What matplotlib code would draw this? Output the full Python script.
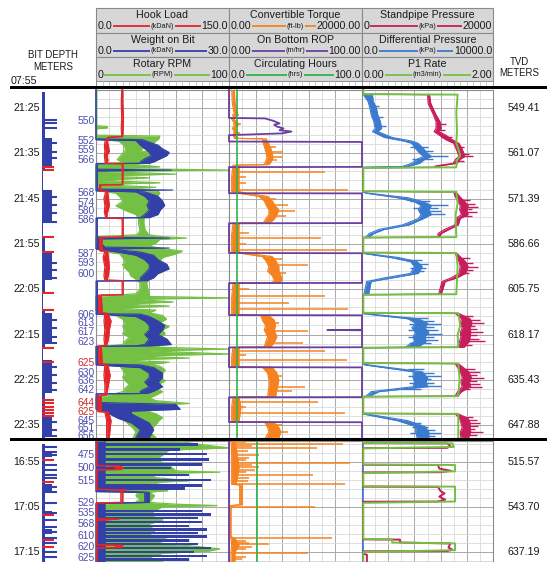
import matplotlib
matplotlib.use("Agg")
import matplotlib.pyplot as plt
import numpy as np
from matplotlib.patches import Rectangle

plt.rcParams['font.family'] = ['Liberation Sans', 'DejaVu Sans']

# ------------------------------------------------------------------ data
P1_BASE = 21 * 60            # panel 1 times are minutes after 21:00
P2_BASE = 16 * 60            # panel 2 times are minutes after 16:00
P1_RANGE = (20.92, 97.74)
P2_RANGE = (50.33, 77.22)

HEADER = [
    [("Hook Load", "0.0", "(kDaN)", "150.0"), ("Convertible Torque", "0.00", "(ft-lb)", "20000.00"),
     ("Standpipe Pressure", "0", "(kPa)", "20000")],
    [("Weight on Bit", "0.0", "(kDaN)", "30.0"), ("On Bottom ROP", "0.00", "(m/hr)", "100.00"),
     ("Differential Pressure", "0.0", "(kPa)", "10000.0")],
    [("Rotary RPM", "0", "(RPM)", "100"), ("Circulating Hours", "0.0", "(hrs)", "100.0"),
     ("P1 Rate", "0.00", "(m3/min)", "2.00")],
]

TIME_LABELS_P1 = ["21:25", "21:35", "21:45", "21:55", "22:05", "22:15", "22:25", "22:35"]
TIME_LABELS_P2 = ["16:55", "17:05", "17:15"]
TVD_P1 = ["549.41", "561.07", "571.39", "586.66", "605.75", "618.17", "635.43", "647.88"]
TVD_P2 = ["515.57", "543.70", "637.19"]

# (minute, bit depth label, red?)
DEPTH_P1 = [(27.9, "550", 0), (32.3, "552", 0), (34.3, "559", 0), (36.5, "566", 0),
            (43.8, "568", 0), (46.0, "574", 0), (47.7, "580", 0), (49.7, "586", 0),
            (57.2, "587", 0), (59.2, "593", 0), (61.6, "600", 0),
            (70.7, "606", 0), (72.5, "613", 0), (74.4, "617", 0), (76.7, "623", 0),
            (81.3, "625", 1), (83.5, "630", 0), (85.3, "636", 0), (87.3, "642", 0),
            (90.1, "644", 1), (92.1, "625", 1), (94.1, "645", 0), (95.6, "651", 0), (97.4, "656", 0)]
DEPTH_P2 = [(53.4, "475", 0), (56.3, "500", 0), (59.2, "515", 0), (64.1, "529", 0),
            (66.3, "535", 0), (68.8, "568", 0), (71.4, "610", 0), (73.9, "620", 0), (76.3, "625", 0)]

# bit-depth strip: drilling blocks, thin (no-progress) spans, tick marks
BD_WIDE_P1 = [(31.6, 38.0), (43.1, 50.4), (57.0, 63.0), (70.3, 76.9), (80.6, 87.9), (93.2, 97.6)]
BD_THIN_P1 = [(38.7, 43.1), (50.4, 53.5), (65.8, 69.6), (78.0, 80.6)]
BD_TICKS_P1 = [27.6, 28.3, 29.4, 32.7, 34.7, 36.0, 44.6, 46.4, 48.2, 50.2, 59.2, 60.8, 62.5,
               71.8, 73.6, 75.6, 76.9, 82.2, 83.9, 85.7, 87.3, 94.3, 96.1, 97.4]
BD_RED_P1 = [38.0, 38.7, 53.5, 56.8, 65.8, 69.6, 78.0, 81.1, 89.5, 90.1, 91.0, 91.7, 92.3, 93.0]
BD_WIDE_P2 = [(53.0, 54.0), (60.0, 61.5), (66.0, 67.0), (70.0, 71.0)]
BD_THIN_P2 = []
BD_TICKS_P2 = [51.7, 52.8, 53.4, 55.7, 56.8, 57.9, 58.6, 60.6, 61.7, 64.1, 66.3, 67.9, 69.4,
               70.6, 71.9, 73.0, 75.0, 76.1]
BD_RED_P2 = [54.6, 59.4, 66.8, 72.3, 73.9]

# ---- panel 1 curves: (minute, low, high) bands; spikes are (minute, from, to)
HOOK_P1 = [(21.0, 29, 30), (24.0, 28.5, 30), (27.0, 29, 31), (29.5, 28.5, 30.5), (31.3, 29, 30),
           (31.5, 13, 14), (32.5, 10, 13), (33.5, 9.5, 14), (34.5, 10, 15), (35.5, 9.5, 12.5),
           (36.5, 10, 13.5), (37.2, 10.5, 12),
           (37.3, 29.5, 30.5), (40.0, 29.5, 30.5), (41.9, 29.5, 30),
           (42.0, 4, 5), (43.3, 4, 5.5),
           (43.4, 11, 13), (45.0, 9, 14), (46.5, 10, 15), (48.0, 9.5, 13), (49.3, 11, 12),
           (49.4, 29.5, 30.5), (53.5, 29.5, 30.5),
           (53.6, 4, 7), (56.5, 4, 7),
           (56.6, 10, 13), (58.0, 8, 14), (60.0, 10, 15), (62.0, 9, 14), (63.0, 10, 12),
           (63.1, 29.5, 30.5), (66.2, 29.5, 30.5),
           (66.3, 3, 6), (70.2, 3, 7),
           (70.3, 10, 13), (72.0, 9, 17), (74.0, 10, 15), (76.0, 9, 14), (77.4, 10, 12),
           (77.5, 3, 6), (81.5, 3, 7),
           (81.6, 10, 13), (84.0, 9, 16), (86.0, 10, 14), (88.3, 10, 12),
           (88.4, 2, 6), (92.0, 2, 6),
           (92.1, 10, 14), (94.0, 12, 17), (95.5, 12, 16), (97.7, 12, 15)]

WOB_P1 = [(21.0, 0, 0), (31.8, 0, 0), (32.0, 0, 10.5), (32.2, 9, 11), (33.2, 10, 14), (34.0, 11, 15),
          (34.8, 12, 16.5), (35.5, 12.5, 16), (36.2, 11, 14.5), (36.9, 10, 13), (37.2, 10, 12),
          (37.3, 0, 0.3), (38.5, 0, 0.3), (38.7, 0, 17), (38.9, 0, 0.3), (42.9, 0, 0.3),
          (43.1, 0, 17.3), (43.3, 0, 3),
          (43.5, 9, 11), (44.5, 11, 14), (45.5, 12, 15), (46.5, 11.5, 15.5), (47.5, 12, 14.5),
          (48.5, 11, 14), (49.2, 10, 12), (49.3, 0, 0.3),
          (53.5, 0, 0.3), (53.7, 0, 16.6), (53.9, 0, 0.3), (55.7, 0, 2), (55.9, 0, 16.5), (56.1, 0, 3),
          (56.8, 5, 10), (57.5, 9, 13), (58.5, 11, 14), (59.5, 12, 16), (60.5, 12, 16.5),
          (61.5, 11, 14), (62.5, 10, 13), (63.1, 10, 11.5), (63.2, 0, 0.3),
          (70.4, 0, 0.3), (70.5, 0, 10), (71.0, 9, 12), (72.0, 11, 14), (73.0, 12, 15.5),
          (74.0, 12, 15), (75.0, 11, 14), (76.0, 12, 16), (77.2, 11, 17), (77.5, 9, 12), (77.6, 0, 0.3),
          (81.5, 0, 0.3), (81.7, 0, 10), (82.3, 10, 13), (83.5, 12, 15), (84.5, 12, 15),
          (85.5, 11, 14), (86.5, 12, 15), (87.5, 10, 13), (88.0, 10, 11.5), (88.1, 0, 0.3),
          (90.0, 0, 1), (90.4, 0, 18), (91.5, 0, 19), (91.9, 2, 8), (92.5, 3, 8), (93.5, 5, 10),
          (94.5, 8, 12), (96.0, 10, 13), (97.7, 9, 12)]

RPM_P1 = [(21.0, 0, 0.5), (28.9, 0, 0.5), (29.1, 0, 8.5), (29.4, 0, 8.5), (29.6, 0, 0.5), (31.0, 0, 0.5),
          (31.2, 0, 48), (31.9, 0, 47),
          (32.3, 17, 45), (33.0, 20, 42), (33.7, 22, 36), (34.4, 22, 33), (35.0, 20, 45),
          (35.7, 18, 42), (36.4, 16, 40), (37.0, 20, 35),
          (37.5, 0, 30), (38.0, 0, 48), (38.3, 0, 2), (38.7, 0, 100), (39.0, 0, 5), (39.6, 0, 60),
          (40.0, 0, 3), (40.4, 0, 40), (41.0, 0, 3), (41.5, 0, 48), (41.9, 0, 3), (42.5, 0, 45),
          (43.0, 0, 10), (43.4, 5, 47),
          (43.8, 15, 48), (44.6, 18, 46), (45.6, 20, 44), (46.6, 15, 47), (47.6, 22, 40),
          (48.5, 30, 37), (49.3, 32, 36), (50.5, 32, 36), (52.0, 33, 37), (53.0, 31, 40),
          (53.4, 0, 50), (53.7, 0, 68), (54.0, 0, 48), (54.8, 0, 45), (55.5, 0, 40), (56.0, 0, 50),
          (56.6, 5, 65),
          (57.2, 18, 60), (58.0, 20, 50), (58.8, 22, 48), (59.6, 20, 53), (60.4, 22, 45),
          (61.2, 25, 50), (62.0, 26, 42), (62.8, 30, 40), (63.6, 33, 38), (65.0, 33, 39), (66.0, 30, 40),
          (66.6, 0, 40), (66.9, 0, 100), (67.2, 0, 30), (67.8, 0, 58), (68.3, 0, 20), (68.7, 0, 55),
          (69.2, 0, 15), (69.6, 0, 45), (70.2, 5, 40),
          (70.8, 15, 50), (71.6, 20, 53), (72.4, 22, 48), (73.2, 20, 55), (74.0, 22, 50),
          (74.8, 20, 52), (75.6, 25, 48), (76.4, 22, 45), (77.2, 20, 50),
          (77.8, 0, 45), (78.2, 0, 100), (78.6, 0, 40), (79.3, 0, 100), (79.7, 0, 30), (80.2, 0, 70),
          (80.6, 0, 20), (81.1, 0, 55), (81.6, 5, 40),
          (82.0, 18, 48), (82.8, 20, 52), (83.6, 22, 50), (84.4, 20, 48), (85.2, 22, 52),
          (86.0, 25, 47), (86.8, 22, 45), (87.6, 20, 50), (88.4, 10, 45),
          (89.0, 0, 40), (89.6, 0, 45), (90.2, 0, 70), (90.6, 0, 40), (91.2, 0, 42), (91.8, 5, 38),
          (92.5, 18, 45), (93.3, 20, 50), (94.1, 22, 47), (94.9, 25, 45), (95.7, 28, 42),
          (96.5, 30, 40), (97.7, 28, 45)]

TORQUE_P1 = [(21.0, 400, 800), (24.0, 500, 900), (26.5, 800, 1300), (27.5, 400, 700), (28.5, 900, 1500),
             (29.5, 500, 900), (30.5, 900, 1400), (31.0, 600, 1000), (31.7, 800, 1200),
             (31.8, 5000, 5600), (33.0, 5200, 6000), (34.0, 5400, 6300), (35.0, 5600, 6500),
             (36.0, 5700, 6600), (37.2, 5400, 6200), (37.5, 5200, 5800),
             (37.6, 600, 1500), (40.0, 400, 1500), (43.4, 400, 1500),
             (43.8, 1500, 2500), (44.5, 4500, 5800), (45.5, 5300, 6500), (46.5, 5600, 6900),
             (47.5, 6000, 7500), (48.5, 6000, 7200), (49.5, 5500, 6800), (50.3, 5200, 6200),
             (50.4, 600, 1500), (53.0, 400, 1500), (56.8, 400, 1500),
             (57.0, 1500, 2500), (57.8, 5000, 6500), (58.6, 5500, 7000), (60.0, 6000, 7500),
             (61.0, 5800, 7500), (62.0, 6500, 7800), (63.0, 6800, 8000), (63.5, 6500, 7500),
             (63.6, 600, 1500), (67.0, 400, 1500), (70.6, 400, 1500),
             (70.8, 4800, 6000), (71.8, 5000, 6800), (73.0, 5500, 7000), (74.0, 5300, 6800),
             (75.5, 5800, 7200), (76.7, 5500, 6800), (77.7, 5300, 6300),
             (77.8, 600, 1500), (80.0, 400, 1500), (82.1, 400, 1500),
             (82.2, 5000, 6500), (83.5, 5800, 7200), (85.0, 6000, 7500), (86.4, 6000, 7300),
             (88.7, 5800, 7000),
             (88.8, 600, 1500), (91.0, 400, 1800), (94.3, 400, 1500),
             (94.4, 5400, 6800), (95.5, 5800, 7500), (96.5, 6000, 7800), (97.7, 5500, 7500)]
TORQUE_SPIKES_P1 = [(26.5, 500, 1500), (28.5, 600, 1800), (30.5, 600, 1700),
                    (33.5, 5500, 7000), (34.8, 5800, 8100), (35.8, 5800, 8000), (36.5, 5800, 7200),
                    (45.0, 5500, 7000), (46.5, 6000, 8900), (47.8, 6500, 9900), (48.8, 6500, 8500),
                    (58.3, 6000, 8000), (59.7, 6500, 11900), (61.5, 6500, 8500),
                    (72.5, 5500, 7500), (74.2, 6000, 11900), (76.9, 6000, 11100),
                    (84.2, 6500, 8000), (86.6, 6500, 11400), (87.5, 6500, 9500),
                    (95.0, 6000, 8000), (96.5, 6500, 8900),
                    (39.2, 500, 14400), (40.2, 500, 2500), (41.6, 500, 2500), (43.1, 500, 17850),
                    (52.5, 500, 3000), (53.8, 500, 13900), (55.0, 500, 2500), (56.3, 500, 17700),
                    (65.0, 500, 3000), (66.5, 500, 14400), (68.0, 500, 9000), (69.4, 500, 17900),
                    (78.6, 500, 14400), (79.5, 500, 2500), (80.6, 500, 17700),
                    (89.9, 500, 13400), (91.0, 500, 2500), (92.3, 500, 17400)]

ROP_P1 = [(21.0, 0), (27.2, 0), (27.3, 27), (27.8, 33), (28.4, 38), (28.7, 34), (29.1, 36), (29.5, 41),
          (29.9, 38), (30.2, 47), (30.6, 40), (31.0, 0), (32.4, 0), (32.5, 100), (38.0, 100),
          (38.05, 0), (43.8, 0), (43.85, 100), (50.4, 100), (50.45, 0), (57.0, 0), (57.05, 100),
          (63.6, 100), (63.65, 0), (70.7, 0), (70.75, 100), (73.95, 100), (74.0, 74), (74.05, 100),
          (77.8, 100), (77.85, 0), (82.2, 0), (82.25, 100), (88.8, 100), (88.85, 0), (94.3, 0),
          (94.35, 100), (97.7, 100)]

CIRC_P1 = [(21.0, 6.0), (97.7, 6.0)]

SPP_P1 = [(21.0, 150, 150), (21.95, 150, 150), (22.05, 10000, 10300), (24.0, 10100, 10500),
          (26.5, 10900, 11300), (28.0, 11300, 11900), (29.5, 11300, 12100), (30.2, 11000, 11700),
          (31.0, 11800, 12800), (32.0, 12800, 13800), (32.8, 14000, 14800), (33.8, 14300, 15200),
          (34.8, 14600, 15500), (35.7, 14800, 15700), (36.3, 14300, 15000), (37.2, 13900, 14500),
          (37.8, 11200, 11800), (38.1, 11000, 11500), (38.2, 150, 150),
          (43.4, 150, 150), (43.5, 14000, 14300), (44.5, 14200, 14900), (45.7, 14700, 15700),
          (46.5, 15000, 16200), (47.5, 14900, 16000), (48.5, 15200, 16200), (49.4, 14300, 15000),
          (50.8, 14200, 14700), (51.8, 12600, 13300), (52.7, 11600, 12100), (53.5, 11600, 11800),
          (53.6, 150, 150),
          (56.9, 150, 150), (57.0, 14200, 14400), (58.9, 14800, 15800), (60.0, 15000, 16200),
          (61.5, 14800, 15800), (62.5, 13600, 14500), (63.3, 12200, 12700), (66.1, 11700, 12100),
          (66.2, 150, 150),
          (70.2, 150, 150), (70.3, 14200, 14700), (71.5, 15200, 16500), (72.5, 15000, 16800),
          (73.5, 15300, 16500), (74.5, 15000, 16600), (75.5, 15100, 16500), (76.5, 14900, 16400),
          (77.8, 14600, 15600), (77.9, 150, 150),
          (81.3, 150, 150), (81.4, 14200, 14700), (83.2, 15000, 16300), (84.5, 15300, 16700),
          (85.5, 15100, 16400), (86.5, 15300, 16600), (87.6, 14600, 15200), (88.6, 14200, 14600),
          (88.7, 150, 150),
          (92.4, 150, 150), (92.5, 14200, 14700), (93.5, 14900, 16200), (94.5, 15100, 16500),
          (95.5, 15300, 16500), (96.5, 15000, 16600), (97.7, 15100, 16300)]
SPP_SPIKES_P1 = [(28.6, 11500, 12800), (29.8, 11500, 12600), (31.4, 12000, 13800), (33.5, 14500, 15600),
                 (35.2, 15000, 16300), (35.7, 15200, 17000), (36.6, 14500, 15600),
                 (45.2, 15000, 16500), (46.1, 15300, 17200), (46.8, 15500, 17700), (47.4, 15300, 16800),
                 (48.0, 15500, 17500), (48.8, 15300, 16800),
                 (58.0, 14800, 16500), (59.3, 15200, 17000), (60.0, 15300, 17700), (60.7, 15200, 16900),
                 (61.4, 15000, 16400),
                 (71.0, 15000, 17000), (71.7, 15500, 18000), (72.4, 15500, 18700), (73.1, 15500, 17200),
                 (73.8, 15500, 17500), (74.5, 15300, 18500), (75.2, 15500, 17500), (75.9, 15500, 17800),
                 (76.5, 15300, 18800), (77.2, 15000, 16800),
                 (82.5, 15000, 17200), (83.2, 15300, 18000), (83.9, 15500, 17600), (84.5, 15500, 18700),
                 (85.2, 15500, 17500), (85.9, 15500, 18000), (86.5, 15500, 18300), (87.1, 15000, 16500),
                 (93.2, 15000, 17000), (93.9, 15400, 17500), (94.5, 15500, 18000), (95.2, 15500, 17700),
                 (95.9, 15400, 17300), (96.5, 15300, 18500), (97.2, 15300, 17500)]

DP_P1 = [(21.0, 60, 60), (21.95, 60, 60), (22.05, 100, 800), (23.5, 450, 850), (25.0, 600, 1100),
         (26.5, 700, 1200), (28.0, 900, 1400), (29.5, 1000, 1500), (30.2, 800, 1200),
         (31.5, 1700, 2300), (32.3, 3200, 3800), (32.8, 3800, 4300), (34.0, 4100, 4700),
         (35.0, 4400, 5000), (35.7, 4700, 5300), (36.3, 4200, 4800), (37.2, 3800, 4400),
         (37.9, 3100, 3500), (38.1, 60, 60),
         (43.5, 60, 60), (43.8, 300, 500), (44.8, 2700, 3500), (45.7, 4000, 4700), (46.5, 4500, 5300),
         (47.5, 4300, 5100), (48.5, 4500, 5300), (49.4, 4300, 4700), (50.8, 3100, 3600),
         (51.8, 1300, 1700), (52.7, 550, 900), (53.5, 300, 550), (53.6, 60, 60),
         (57.0, 60, 60), (57.1, 100, 300), (58.0, 2200, 2800), (58.9, 3700, 4200), (60.0, 4000, 4600),
         (61.5, 3700, 4300), (62.5, 1700, 2300), (63.3, 350, 700), (66.1, 150, 500), (66.2, 60, 60),
         (70.3, 60, 60), (70.4, 100, 300), (71.5, 3500, 4300), (72.5, 4100, 5000), (73.5, 3800, 4800),
         (74.5, 4100, 5100), (75.5, 3900, 4800), (76.5, 4000, 4900), (77.8, 3300, 4300), (77.9, 60, 60),
         (81.4, 60, 60), (81.7, 200, 500), (83.2, 3900, 4600), (84.5, 3900, 5000), (85.5, 4000, 4900),
         (86.5, 3900, 5000), (87.6, 700, 1300), (88.6, 300, 550), (88.7, 60, 60),
         (92.5, 60, 60), (92.6, 200, 500), (94.0, 2700, 3500), (95.3, 4100, 4800), (96.5, 4100, 5100),
         (97.7, 4200, 5100)]
DP_SPIKES_P1 = [(24.5, 600, 1300), (27.0, 800, 1600), (29.0, 1000, 1800),
                (33.5, 3700, 5000), (34.6, 4500, 5400), (35.7, 4800, 6600), (36.3, 3800, 5400),
                (45.5, 3700, 5200), (46.3, 4700, 6600), (47.0, 3900, 5800), (47.8, 4600, 6000),
                (48.5, 4700, 6300),
                (58.6, 3400, 4600), (59.5, 4200, 5000), (60.3, 3700, 4900), (61.0, 4000, 4700),
                (71.3, 3300, 5000), (72.0, 4200, 5500), (72.7, 3600, 6000), (73.4, 4000, 5500),
                (74.1, 3500, 5800), (74.8, 4400, 6100), (75.5, 3500, 5500), (76.2, 4300, 5800),
                (76.9, 3600, 5300),
                (82.7, 3500, 4700), (83.5, 4200, 5500), (84.2, 3500, 6000), (84.9, 4200, 5300),
                (85.6, 3600, 5500), (86.3, 4200, 6000), (87.0, 3000, 4500),
                (94.6, 3500, 4500), (95.3, 3800, 5000), (96.0, 4400, 5600), (96.7, 3700, 6000),
                (97.3, 4500, 5600)]

P1RATE_P1 = [(21.0, 0.02), (21.95, 0.02), (22.05, 1.46), (26.0, 1.44), (30.0, 1.45), (32.8, 1.44),
             (34.0, 1.47), (35.5, 1.50), (36.5, 1.45), (38.1, 1.44), (38.2, 0.02), (43.4, 0.02),
             (43.5, 1.44), (46.0, 1.46), (48.5, 1.43), (53.5, 1.44), (53.6, 0.02), (56.9, 0.02),
             (57.0, 1.44), (60.0, 1.46), (66.1, 1.44), (66.2, 0.02), (70.2, 0.02), (70.3, 1.47),
             (73.0, 1.50), (75.0, 1.46), (77.8, 1.47), (77.9, 0.02), (81.3, 0.02), (81.4, 1.47),
             (85.0, 1.49), (88.6, 1.47), (88.7, 0.02), (92.4, 0.02), (92.5, 1.47), (97.7, 1.47)]

# ---- panel 2 curves
HOOK_P2 = [(50.4, 0.5, 1), (55.8, 0.5, 1), (55.9, 20, 26), (56.3, 22, 31), (56.7, 24, 28), (56.8, 0.5, 1),
           (61.1, 0.5, 1), (61.2, 23, 34), (61.4, 28, 30), (64.0, 28, 30), (64.1, 0.5, 1),
           (67.6, 0.5, 1), (67.7, 18, 26), (68.0, 0.5, 1), (73.4, 0.5, 1), (73.5, 22, 30),
           (74.0, 22, 30), (74.1, 0.5, 1), (77.15, 0.5, 1)]
WOB_P2 = [(50.4, 0, 2), (61.4, 0, 2), (61.6, 0, 9), (61.8, 11, 12), (64.0, 11, 12), (64.2, 0, 2),
          (77.15, 0, 2)]
WOB_BARS_P2 = [(51.2, 23), (52.3, 19), (53.3, 25), (54.5, 25.5), (55.6, 24), (56.4, 17), (57.9, 21),
               (59.0, 26), (60.2, 24), (60.9, 20), (65.9, 24), (66.7, 26), (67.5, 23), (68.3, 24),
               (69.2, 21), (70.0, 25), (70.8, 23), (71.6, 25), (72.4, 21), (73.2, 23), (74.1, 26),
               (75.0, 22), (75.9, 25), (76.7, 21)]
RPM_P2 = [(50.4, 0, 60), (51.2, 0, 80), (51.9, 0, 100), (52.4, 0, 55), (53.5, 0, 50), (54.6, 0, 45),
          (55.7, 0, 55), (56.5, 5, 58), (57.0, 0, 60), (57.3, 0, 93), (57.6, 0, 40), (58.5, 0, 45),
          (59.2, 0, 70), (59.6, 0, 40), (60.3, 0, 55), (61.0, 0, 50), (61.4, 0, 54), (61.7, 32, 40),
          (62.5, 30, 44), (63.3, 33, 42), (64.0, 30, 40), (64.4, 0, 60), (64.7, 0, 91), (65.0, 0, 50),
          (65.7, 0, 45), (66.8, 0, 40), (67.9, 0, 50), (69.0, 0, 38), (70.1, 0, 45), (71.2, 0, 40),
          (72.3, 0, 55), (73.0, 0, 45), (73.6, 0, 70), (74.3, 0, 93), (74.8, 0, 85), (75.3, 0, 50),
          (76.2, 0, 40), (77.15, 0, 50)]
TORQUE_P2 = [(50.4, 300, 900), (53.0, 400, 1200), (56.2, 400, 1500), (59.0, 400, 1200), (60.0, 400, 1000),
             (60.1, 1600, 2000), (64.5, 1600, 2000), (64.7, 200, 600), (65.2, 100, 300), (71.6, 100, 300),
             (72.0, 300, 900), (73.5, 400, 1500), (75.0, 300, 900), (77.15, 300, 900)]
TORQUE_SPIKES_P2 = [(50.6, 400, 2500), (51.0, 500, 17100), (51.5, 400, 3500), (51.9, 500, 13200),
                    (52.6, 400, 2900), (53.5, 400, 4500), (54.2, 400, 3000), (54.7, 400, 2500),
                    (55.2, 500, 18200), (55.8, 400, 3500), (56.2, 400, 4500), (56.7, 400, 3900),
                    (57.3, 400, 2500), (57.9, 500, 12600), (58.5, 400, 3000), (59.3, 400, 2800),
                    (59.9, 500, 17400), (65.0, 300, 12900), (71.9, 300, 15500), (72.6, 400, 2500),
                    (73.0, 400, 3000), (73.3, 400, 6000), (73.8, 400, 3500), (74.4, 400, 2500),
                    (75.2, 500, 11900), (76.0, 400, 2500), (76.6, 400, 2000)]
ROP_P2 = [(50.4, 0), (77.15, 0)]
CIRC_P2 = [(50.4, 21.0), (77.15, 21.0)]
SPP_P2 = [(50.4, 150), (50.85, 150), (50.9, 13000), (51.5, 13500), (51.9, 13000), (51.95, 150),
          (55.65, 150), (55.7, 11600), (56.5, 11800), (57.0, 13600), (57.3, 12000), (57.35, 150),
          (60.5, 150), (60.55, 11600), (61.5, 12000), (62.0, 12600), (62.7, 11800), (63.4, 12700),
          (63.8, 11500), (63.85, 150), (72.2, 150), (72.25, 5800), (72.9, 5800), (73.1, 13500),
          (74.0, 13200), (74.5, 13800), (74.8, 13000), (74.85, 150), (75.4, 150), (75.6, 750),
          (77.15, 750)]
DP_P2 = [(50.4, 100), (77.15, 100)]
P1RATE_P2 = [(50.4, 0.02), (50.8, 0.02), (50.9, 1.38), (51.7, 1.40), (52.0, 0.02), (55.6, 0.02),
             (55.7, 1.42), (57.1, 1.42), (57.5, 0.02), (60.4, 0.02), (60.5, 1.42), (63.8, 1.42),
             (64.1, 0.02), (72.1, 0.02), (72.2, 0.46), (72.9, 0.46), (73.1, 1.42), (74.6, 1.42),
             (75.0, 0.02), (77.15, 0.02)]

# ------------------------------------------------------------------ style
RED = '#e3262b'; WOB_BLUE = '#3240a8'; RPM_GREEN = '#74c044'
ORANGE = '#f5821f'; PURPLE = '#6b3fa0'; CIRC_GREEN = '#2fb34a'
MAGENTA = '#c81d5c'; DP_BLUE = '#3a7bd0'; P1_GREEN = '#74c044'
LABEL_BLUE = '#4a4fb0'; LABEL_RED = '#d42a2a'
HEADER_COLORS = [[RED, ORANGE, MAGENTA], [WOB_BLUE, PURPLE, DP_BLUE], [RPM_GREEN, CIRC_GREEN, P1_GREEN]]

W, H = 547, 562
fig = plt.figure(figsize=(W / 100, H / 100), dpi=100)
fig.patch.set_facecolor('white')


def add_ax(x0, y0, x1, y1, z=1):
    return fig.add_axes([x0 / W, 1 - y1 / H, (x1 - x0) / W, (y1 - y0) / H], zorder=z)


TX = [96, 229, 362, 493]
ROWS = [8, 32.5, 56.8, 80.5]
STRIP_BOTTOM = 86.3

bg = add_ax(0, 0, W, H, z=0)
bg.set_xlim(0, W); bg.set_ylim(H, 0); bg.axis('off')

scale_items = []
for r in range(3):
    for c in range(3):
        x0, x1 = TX[c], TX[c + 1]
        y0, y1 = ROWS[r], ROWS[r + 1]
        bg.add_patch(Rectangle((x0, y0), x1 - x0, y1 - y0, fc='#d7d7d7', ec='#8a8a8a', lw=0.8))
        title, lo, unit, hi = HEADER[r][c]
        bg.text((x0 + x1) / 2, y0 + 7.2, title, ha='center', va='center', fontsize=7.7, color='#1a1a1a')
        tl = bg.text(x0 + 1.5, y0 + 18.2, lo, ha='left', va='center', fontsize=7.7, color='#1a1a1a')
        th = bg.text(x1 - 1.0, y0 + 18.2, hi, ha='right', va='center', fontsize=7.7, color='#1a1a1a')
        tu = bg.text((x0 + x1) / 2, y0 + 18.2, unit, ha='center', va='center', fontsize=5.3, color='#1a1a1a')
        scale_items.append((tl, tu, th, y0 + 18.2, HEADER_COLORS[r][c]))

bg.add_patch(Rectangle((TX[0], ROWS[3]), TX[3] - TX[0], STRIP_BOTTOM - ROWS[3], fc='white', ec='#8a8a8a', lw=0.6))
for c in range(3):
    for k in range(1, 20):
        xx = TX[c] + k * (TX[c + 1] - TX[c]) / 20
        bg.plot([xx, xx], [ROWS[3], STRIP_BOTTOM], color='#b5b5b5', lw=0.5)
    bg.plot([TX[c], TX[c]], [ROWS[3], STRIP_BOTTOM], color='#8a8a8a', lw=0.7)

bg.text(53, 55.5, "BIT DEPTH", ha='center', va='center', fontsize=6.9, color='#1a1a1a')
bg.text(53, 66.5, "METERS", ha='center', va='center', fontsize=6.9, color='#1a1a1a')
bg.text(11, 80.5, "07:55", ha='left', va='center', fontsize=7.7, color='#1a1a1a')
bg.text(519, 62, "TVD", ha='center', va='center', fontsize=6.9, color='#1a1a1a')
bg.text(519, 72.5, "METERS", ha='center', va='center', fontsize=6.9, color='#1a1a1a')

fg = add_ax(0, 0, W, H, z=6)
fg.set_xlim(0, W); fg.set_ylim(H, 0); fg.axis('off'); fg.patch.set_alpha(0)
fg.add_patch(Rectangle((10, 86.4), W - 10, 3.1, color='black', lw=0))
fg.add_patch(Rectangle((10, 437.6), W - 10, 3.2, color='black', lw=0))


def to_min(lbl):
    h, m = lbl.split(':')
    return int(h) * 60 + int(m)


def make_track(x0, x1, y0, y1, base, rng):
    g = add_ax(x0, y0, x1, y1, z=1)
    g.set_xlim(0, 10)
    g.set_ylim(base + rng[1], base + rng[0])
    lo_m = int(np.ceil(base + rng[0])); hi_m = int(np.floor(base + rng[1]))
    majors = [m for m in range(lo_m, hi_m + 1) if m % 10 == 5]
    minors = [m for m in range(lo_m, hi_m + 1) if m % 2 == 1 and m % 10 != 5]
    g.set_yticks(majors); g.set_yticks(minors, minor=True)
    g.set_xticks([0, 2, 4, 6, 8, 10]); g.set_xticks([1, 3, 5, 7, 9], minor=True)
    g.grid(which='major', color='#a8a8a8', lw=0.7)
    g.grid(which='minor', color='#d9d9d9', lw=0.6)
    g.tick_params(which='both', length=0, labelbottom=False, labelleft=False)
    for s in g.spines.values():
        s.set_color('#8c8c8c'); s.set_linewidth(0.8)
    g.set_axisbelow(True)
    return g


def layer(g, xmax):
    a = g.twiny()
    a.set_xlim(0, xmax)
    a.axis('off')
    return a


def draw_env(ax, knots, base, color, lw=0.9):
    t = np.array([k[0] for k in knots]) + base
    lo = np.array([k[1] for k in knots], float)
    hi = np.array([k[2] for k in knots], float)
    ax.fill_betweenx(t, lo, hi, color=color, lw=0, clip_on=False)
    ax.plot(lo, t, color=color, lw=lw, clip_on=False)
    ax.plot(hi, t, color=color, lw=lw, clip_on=False)


def draw_spikes(ax, spikes, base, color, lw=1.0):
    ax.hlines([s[0] + base for s in spikes], [s[1] for s in spikes], [s[2] for s in spikes],
              color=color, lw=lw, clip_on=False)


def draw_line(ax, pts, base, color, lw=1.0):
    t = np.array([p[0] for p in pts]) + base
    v = np.array([p[1] for p in pts], float)
    ax.plot(v, t, color=color, lw=lw, clip_on=False)


PANELS = [
    dict(y0=89.5, y1=437.6, base=P1_BASE, rng=P1_RANGE, times=TIME_LABELS_P1, tvd=TVD_P1, depth=DEPTH_P1,
         wide=BD_WIDE_P1, thin=BD_THIN_P1, ticks=BD_TICKS_P1, red=BD_RED_P1),
    dict(y0=440.8, y1=562, base=P2_BASE, rng=P2_RANGE, times=TIME_LABELS_P2, tvd=TVD_P2, depth=DEPTH_P2,
         wide=BD_WIDE_P2, thin=BD_THIN_P2, ticks=BD_TICKS_P2, red=BD_RED_P2),
]

for pi, P in enumerate(PANELS):
    base, rng = P['base'], P['rng']
    ylim = (base + rng[1], base + rng[0])
    g1 = make_track(TX[0], TX[1], P['y0'], P['y1'], base, rng)
    g2 = make_track(TX[1], TX[2], P['y0'], P['y1'], base, rng)
    g3 = make_track(TX[2], TX[3], P['y0'], P['y1'], base, rng)

    a_rpm = layer(g1, 100); a_wob = layer(g1, 30); a_hook = layer(g1, 150)
    if pi == 0:
        draw_env(a_rpm, RPM_P1, base, RPM_GREEN)
        draw_env(a_wob, WOB_P1, base, WOB_BLUE, lw=0.8)
        draw_env(a_hook, HOOK_P1, base, RED)
    else:
        draw_env(a_rpm, RPM_P2, base, RPM_GREEN)
        draw_env(a_wob, WOB_P2, base, WOB_BLUE)
        a_wob.barh([b[0] + base for b in WOB_BARS_P2], [b[1] for b in WOB_BARS_P2],
                   height=0.55, left=0, color=WOB_BLUE, lw=0)
        draw_env(a_hook, HOOK_P2, base, RED)

    a_tq = layer(g2, 20000); a_rop = layer(g2, 100); a_circ = layer(g2, 100)
    a_dp = layer(g3, 10000); a_spp = layer(g3, 20000); a_q = layer(g3, 2)
    if pi == 0:
        draw_env(a_tq, TORQUE_P1, base, ORANGE, lw=0.8)
        draw_spikes(a_tq, TORQUE_SPIKES_P1, base, ORANGE, lw=1.1)
        draw_line(a_rop, ROP_P1, base, PURPLE, lw=1.3)
        draw_line(a_circ, CIRC_P1, base, CIRC_GREEN, lw=1.2)
        draw_env(a_dp, DP_P1, base, DP_BLUE, lw=0.8)
        draw_spikes(a_dp, DP_SPIKES_P1, base, DP_BLUE, lw=1.0)
        draw_env(a_spp, SPP_P1, base, MAGENTA, lw=0.8)
        draw_spikes(a_spp, SPP_SPIKES_P1, base, MAGENTA, lw=1.0)
        draw_line(a_q, P1RATE_P1, base, P1_GREEN, lw=1.4)
    else:
        draw_env(a_tq, TORQUE_P2, base, ORANGE, lw=0.8)
        draw_spikes(a_tq, TORQUE_SPIKES_P2, base, ORANGE, lw=1.1)
        draw_line(a_rop, ROP_P2, base, PURPLE, lw=1.3)
        draw_line(a_circ, CIRC_P2, base, CIRC_GREEN, lw=1.2)
        draw_line(a_dp, DP_P2, base, DP_BLUE, lw=1.2)
        draw_line(a_spp, SPP_P2, base, MAGENTA, lw=1.4)
        draw_line(a_q, P1RATE_P2, base, P1_GREEN, lw=1.4)
    for a in (a_rpm, a_wob, a_hook, a_tq, a_rop, a_circ, a_dp, a_spp, a_q):
        a.set_ylim(*ylim)

    la = add_ax(0, P['y0'], TX[0] - 0.5, P['y1'], z=2)
    la.set_xlim(0, TX[0] - 0.5); la.set_ylim(*ylim); la.axis('off'); la.patch.set_alpha(0)
    for lbl in P['times']:
        la.text(39.5, to_min(lbl), lbl, ha='right', va='center', fontsize=7.7, color='#1a1a1a')
    t_lo, t_hi = base + rng[0] + 0.6, base + rng[1]
    la.fill_betweenx([t_lo, t_hi], 41.5, 42.8, color=WOB_BLUE, lw=0)
    edges = [t_lo]
    for a0, a1 in P['thin']:
        edges += [a0 + base, a1 + base]
    edges.append(t_hi)
    for k in range(0, len(edges), 2):
        la.fill_betweenx([edges[k], edges[k + 1]], 41.5, 45.3, color=WOB_BLUE, lw=0)
    for a0, a1 in P['wide']:
        la.fill_betweenx([a0 + base, a1 + base], 41.5, 52, color=WOB_BLUE, lw=0)
    la.hlines([t + base for t in P['ticks']], 41.5, 57, color=WOB_BLUE, lw=1.5)
    la.hlines([t + base for t in P['red']], 41.5, 54, color=RED, lw=1.5)
    for tm, txt, isred in P['depth']:
        la.text(94.5, tm + base, txt, ha='right', va='center', fontsize=7.4,
                color=LABEL_RED if isred else LABEL_BLUE, clip_on=True)

    ra = add_ax(TX[3] + 0.5, P['y0'], W, P['y1'], z=2)
    ra.set_xlim(TX[3] + 0.5, W); ra.set_ylim(*ylim); ra.axis('off'); ra.patch.set_alpha(0)
    for lbl, tv in zip(P['times'], P['tvd']):
        ra.text(524, to_min(lbl), tv, ha='center', va='center', fontsize=7.7, color='#1a1a1a')

fig.canvas.draw()
rend = fig.canvas.get_renderer()
for tl, tu, th, yy, col in scale_items:
    bl = tl.get_window_extent(rend); bu = tu.get_window_extent(rend); bh = th.get_window_extent(rend)
    bg.plot([bl.x1 + 0.5, bu.x0 - 0.5], [yy, yy], color=col, lw=1.3, solid_capstyle='butt')
    bg.plot([bu.x1 + 0.5, bh.x0 - 0.5], [yy, yy], color=col, lw=1.3, solid_capstyle='butt')

fig.savefig("out.png", dpi=100)
